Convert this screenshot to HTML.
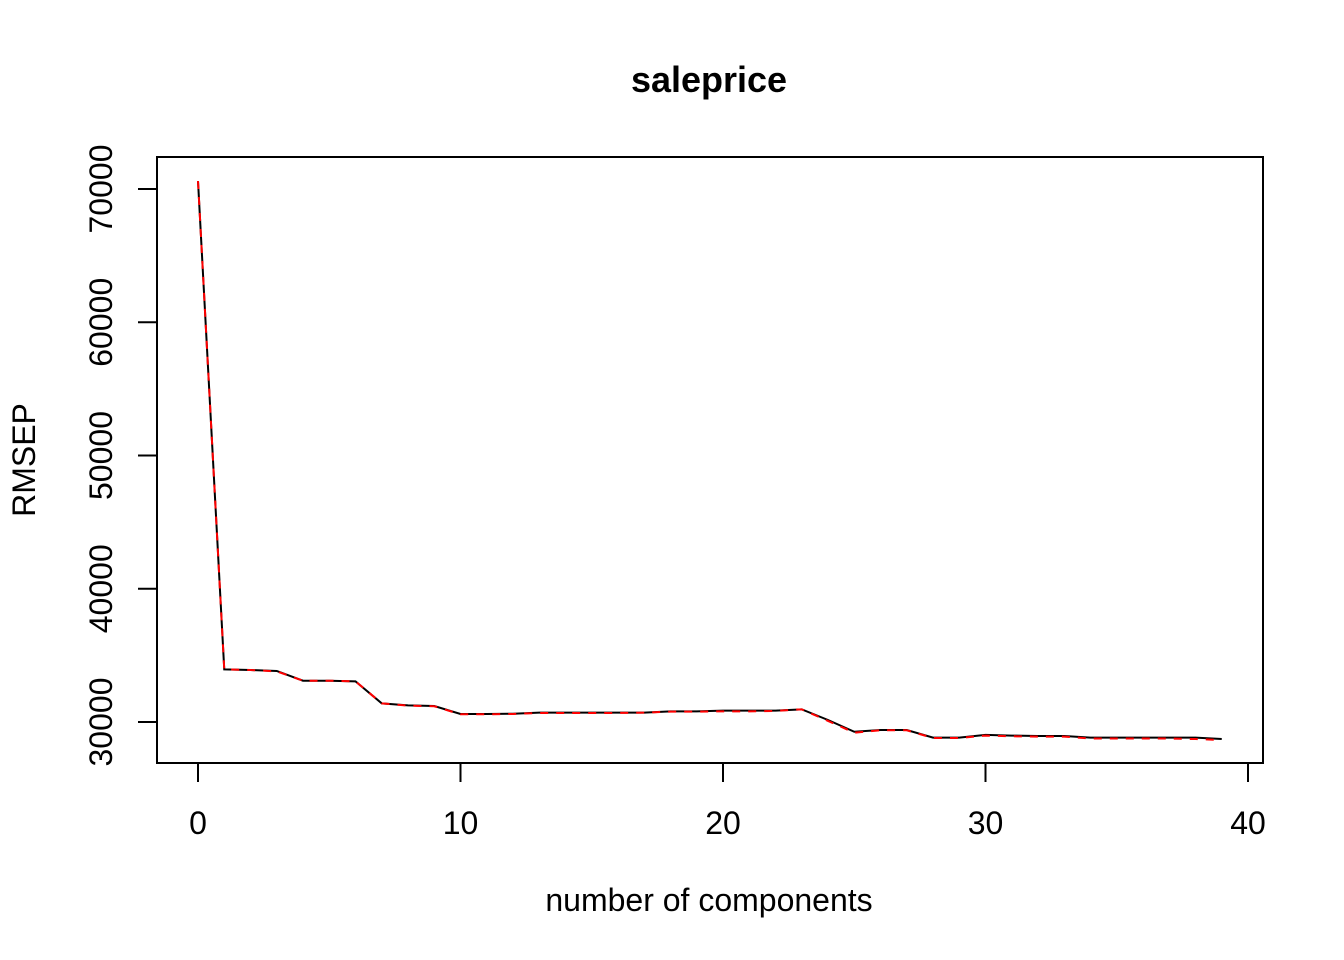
<!DOCTYPE html>
<html><head><meta charset="utf-8"><style>
html,body{margin:0;padding:0;background:#fff;}
svg{display:block;font-family:"Liberation Sans",Arial,sans-serif;}
</style></head><body>
<svg id="chart" width="1344" height="960" viewBox="0 0 1344 960">
<rect width="1344" height="960" fill="#fff"/>
<text x="709" y="92" text-anchor="middle" font-size="36" font-weight="bold">saleprice</text>
<text x="709" y="911" text-anchor="middle" font-size="32">number of components</text>
<text transform="translate(35,460) rotate(-90)" text-anchor="middle" font-size="32">RMSEP</text>
<rect x="157" y="157" width="1106" height="606" fill="none" stroke="#000" stroke-width="2"/>
<g id="xaxis"></g>
<g id="yaxis"></g>
<g id="series"></g>
</svg>
<script>
const components = [0,1,2,3,4,5,6,7,8,9,10,11,12,13,14,15,16,17,18,19,20,21,22,23,24,25,26,27,28,29,30,31,32,33,34,35,36,37,38,39];
const cvValues = [70600,33950,33900,33830,33100,33100,33050,31400,31250,31200,30600,30600,30620,30700,30700,30700,30700,30700,30800,30800,30850,30850,30850,30950,30150,29270,29400,29400,28830,28830,29030,28980,28950,28950,28830,28830,28830,28830,28830,28720];
const adjCvValues = [70600,33950,33900,33800,33100,33100,33050,31400,31230,31180,30580,30580,30600,30680,30680,30680,30680,30700,30780,30780,30800,30800,30830,30950,30080,29200,29380,29380,28800,28800,28980,28930,28900,28900,28760,28760,28760,28760,28720,28650];
const xTicks = [0,10,20,30,40];
const yTicks = [30000,40000,50000,60000,70000];
const NS='http://www.w3.org/2000/svg';
const xs = v => 198 + (v-0)*(1248-198)/40;
const ys = v => 722 - (v-30000)*(722-189)/40000;
function mk(tag, attrs, parent){const e=document.createElementNS(NS,tag);for(const k in attrs)e.setAttribute(k,attrs[k]);parent.appendChild(e);return e;}
const xg=document.getElementById('xaxis'), yg=document.getElementById('yaxis'), sg=document.getElementById('series');
mk('line',{x1:xs(0),x2:xs(40),y1:763,y2:763,stroke:'#000','stroke-width':2},xg);
xTicks.forEach(t=>{
  const l=mk('line',{x1:xs(t),x2:xs(t),y1:763,y2:782,stroke:'#000','stroke-width':2},xg);
  
  
  const tx=mk('text',{x:xs(t),y:834,'text-anchor':'middle','font-size':32},xg);
  tx.textContent=t;
  
  
});
yTicks.forEach(t=>{
  const l=mk('line',{x1:138,x2:157,y1:ys(t),y2:ys(t),stroke:'#000','stroke-width':2},yg);
  
  
  const tx=mk('text',{transform:`translate(112,${ys(t)}) rotate(-90)`,'text-anchor':'middle','font-size':32},yg);
  tx.textContent=t;
  
  
});
const p1=mk('polyline',{points:components.map((c,i)=>xs(c)+','+ys(cvValues[i])).join(' '),fill:'none',stroke:'#000','stroke-width':2},sg);


const p2=mk('polyline',{points:components.map((c,i)=>xs(c)+','+ys(adjCvValues[i])).join(' '),fill:'none',stroke:'#f00','stroke-width':2,'stroke-dasharray':'8 8'},sg);


</script>
</body></html>
